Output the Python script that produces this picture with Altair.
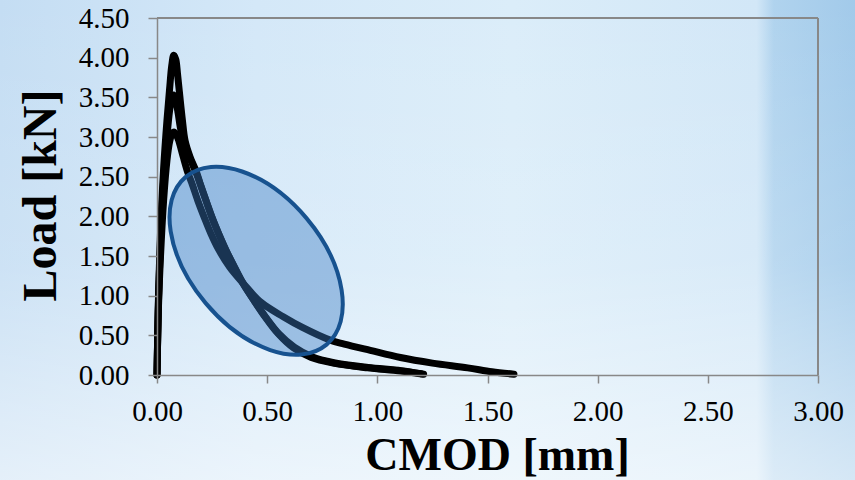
import altair as alt
import pandas as pd

# Load vs. crack mouth opening displacement for three notched specimens
cmod_a = [0.000, 0.006, 0.016, 0.030, 0.045, 0.057, 0.067, 0.076, 0.085, 0.093, 0.103,
          0.115, 0.127, 0.150, 0.180, 0.195, 0.222, 0.249, 0.280, 0.312, 0.350, 0.390,
          0.440, 0.490, 0.550, 0.620, 0.700, 0.800, 0.955, 1.105, 1.210]
load_a = [0.00, 0.90, 1.80, 2.60, 3.20, 3.60, 3.90, 4.03, 3.98, 3.80, 3.53,
          3.22, 2.96, 2.75, 2.55, 2.42, 2.20, 1.99, 1.78, 1.58, 1.37, 1.16,
          0.94, 0.735, 0.52, 0.34, 0.22, 0.15, 0.09, 0.05, 0.01]

cmod_b = [0.000, 0.006, 0.016, 0.030, 0.045, 0.058, 0.068, 0.076, 0.086, 0.096, 0.106,
          0.118, 0.140, 0.180, 0.197, 0.225, 0.252, 0.283, 0.315, 0.353, 0.393,
          0.443, 0.493, 0.553, 0.623, 0.703, 0.803, 0.958, 1.108, 1.200]
load_b = [0.00, 0.85, 1.70, 2.45, 3.00, 3.35, 3.50, 3.53, 3.45, 3.30, 3.12,
          2.98, 2.80, 2.53, 2.40, 2.18, 1.97, 1.76, 1.56, 1.35, 1.14,
          0.93, 0.73, 0.52, 0.35, 0.23, 0.155, 0.095, 0.055, 0.015]

cmod_c = [0.000, 0.006, 0.016, 0.030, 0.045, 0.058, 0.070, 0.080, 0.089, 0.098, 0.118,
          0.140, 0.158, 0.185, 0.214, 0.245, 0.280, 0.330, 0.390, 0.470, 0.573,
          0.660, 0.786, 0.850, 0.968, 1.105, 1.250, 1.410, 1.520, 1.620]
load_c = [0.00, 0.80, 1.50, 2.20, 2.70, 2.95, 3.05, 3.06, 3.02, 2.96, 2.76,
          2.55, 2.42, 2.20, 1.99, 1.78, 1.58, 1.36, 1.16, 0.92, 0.735,
          0.60, 0.44, 0.39, 0.31, 0.22, 0.15, 0.09, 0.04, 0.01]

x_ticks = [0.0, 0.5, 1.0, 1.5, 2.0, 2.5, 3.0]
y_ticks = [0.0, 0.5, 1.0, 1.5, 2.0, 2.5, 3.0, 3.5, 4.0, 4.5]

# Highlighted post-peak softening zone
zone_cmod = [0.45]
zone_load = [1.44]

rows = []
for name, xs, ys in [("A", cmod_a, load_a), ("B", cmod_b, load_b), ("C", cmod_c, load_c)]:
    for i, (x, y) in enumerate(zip(xs, ys)):
        rows.append({"specimen": name, "idx": i, "cmod": x, "load": y})
curves = pd.DataFrame(rows)
zone = pd.DataFrame({"cmod": zone_cmod, "load": zone_load})

W, H = 661, 357
PAD = {"left": 157, "top": 18, "right": 37, "bottom": 105}

x_scale = alt.Scale(domain=[0, 3], nice=False, zero=False)
y_scale = alt.Scale(domain=[0, 4.5], nice=False, zero=False)

AXIS_GREY = "#888888"
SERIF = "Liberation Serif"

x_axis = alt.Axis(
    values=x_ticks, format=".2f", title="CMOD [mm]", grid=False, zindex=1,
    domainColor=AXIS_GREY, domainWidth=1.5, tickColor=AXIS_GREY, tickWidth=1.5,
    tickSize=8, labelPadding=14, labelFont=SERIF, labelFontSize=29,
    labelColor="black", labelFlush=False, labelOverlap=False,
    titleFont=SERIF, titleFontSize=46, titleFontWeight="bold", titleColor="black",
    titleX=340, titleY=94, titleAlign="center", titleBaseline="alphabetic",
)
y_axis = alt.Axis(
    values=y_ticks, format=".2f", title="Load [kN]", grid=False, zindex=1,
    domainColor=AXIS_GREY, domainWidth=1.5, tickColor=AXIS_GREY, tickWidth=1.5,
    tickSize=9, labelPadding=19, labelFont=SERIF, labelFontSize=29,
    labelColor="black", labelFlush=False, labelOverlap=False,
    titleFont=SERIF, titleFontSize=48, titleFontWeight="bold", titleColor="black",
    titleX=-102, titleY=177, titleAngle=270, titleAlign="center",
    titleBaseline="alphabetic",
)

one = pd.DataFrame({"k": [0]})

# Slide-style backdrop spanning the whole canvas
base_bg = alt.Chart(one).mark_rect(
    clip=False,
    fill=alt.Gradient(
        gradient="linear", x1=0, x2=1, y1=0, y2=0,
        stops=[
            alt.GradientStop(color="#c4ddf3", offset=0.0),
            alt.GradientStop(color="#d4e8f8", offset=0.30),
            alt.GradientStop(color="#dbedf9", offset=0.60),
            alt.GradientStop(color="#d2e7f7", offset=0.885),
            alt.GradientStop(color="#b0d3ee", offset=0.905),
            alt.GradientStop(color="#a2caea", offset=1.0),
        ],
    ),
).encode(
    x=alt.value(-PAD["left"]), x2=alt.value(W + PAD["right"]),
    y=alt.value(-PAD["top"]), y2=alt.value(H + PAD["bottom"]),
)
wash_bg = alt.Chart(one).mark_rect(
    clip=False,
    fill=alt.Gradient(
        gradient="linear", x1=0, x2=0, y1=0, y2=1,
        stops=[
            alt.GradientStop(color="rgba(255,255,255,0)", offset=0.0),
            alt.GradientStop(color="rgba(255,255,255,0.15)", offset=0.55),
            alt.GradientStop(color="rgba(255,255,255,0.55)", offset=1.0),
        ],
    ),
).encode(
    x=alt.value(-PAD["left"]), x2=alt.value(W + PAD["right"]),
    y=alt.value(-PAD["top"]), y2=alt.value(H + PAD["bottom"]),
)

# Top and right edges of the plot frame
frame_top = alt.Chart(one).mark_rule(color=AXIS_GREY, strokeWidth=2).encode(
    x=alt.value(0), x2=alt.value(W), y=alt.value(0),
)
frame_right = alt.Chart(one).mark_rule(color=AXIS_GREY, strokeWidth=2).encode(
    x=alt.value(W), y=alt.value(0), y2=alt.value(H),
)

lines = alt.Chart(curves).mark_line(
    color="black", strokeWidth=7, strokeCap="round", strokeJoin="round",
    interpolate="catmull-rom",
).encode(
    x=alt.X("cmod:Q", scale=x_scale, axis=x_axis),
    y=alt.Y("load:Q", scale=y_scale, axis=y_axis),
    detail="specimen:N",
    order="idx:Q",
)

# Unit ellipse (semi-axes 1 and 0.602) built from four cubic Beziers
ELLIPSE = (
    "M 1 0 C 1 0.3325 0.5523 0.602 0 0.602 "
    "C -0.5523 0.602 -1 0.3325 -1 0 "
    "C -1 -0.3325 -0.5523 -0.602 0 -0.602 "
    "C 0.5523 -0.602 1 -0.3325 1 0 Z"
)
highlight = alt.Chart(zone).mark_point(
    shape=ELLIPSE, size=47961, angle=50, filled=True, opacity=1,
    fill="#3c7bc3", fillOpacity=0.42, stroke="#17528f", strokeWidth=4,
    strokeOpacity=1,
).encode(
    x=alt.X("cmod:Q", scale=x_scale, axis=x_axis),
    y=alt.Y("load:Q", scale=y_scale, axis=y_axis),
)

chart = alt.layer(
    base_bg, wash_bg, frame_top, frame_right, lines, highlight
).properties(
    width=W, height=H,
    autosize=alt.AutoSizeParams(type="none"),
    padding=PAD,
).configure_view(stroke=None)

chart.save("out.html", embed_options={"renderer": "svg", "actions": False})
